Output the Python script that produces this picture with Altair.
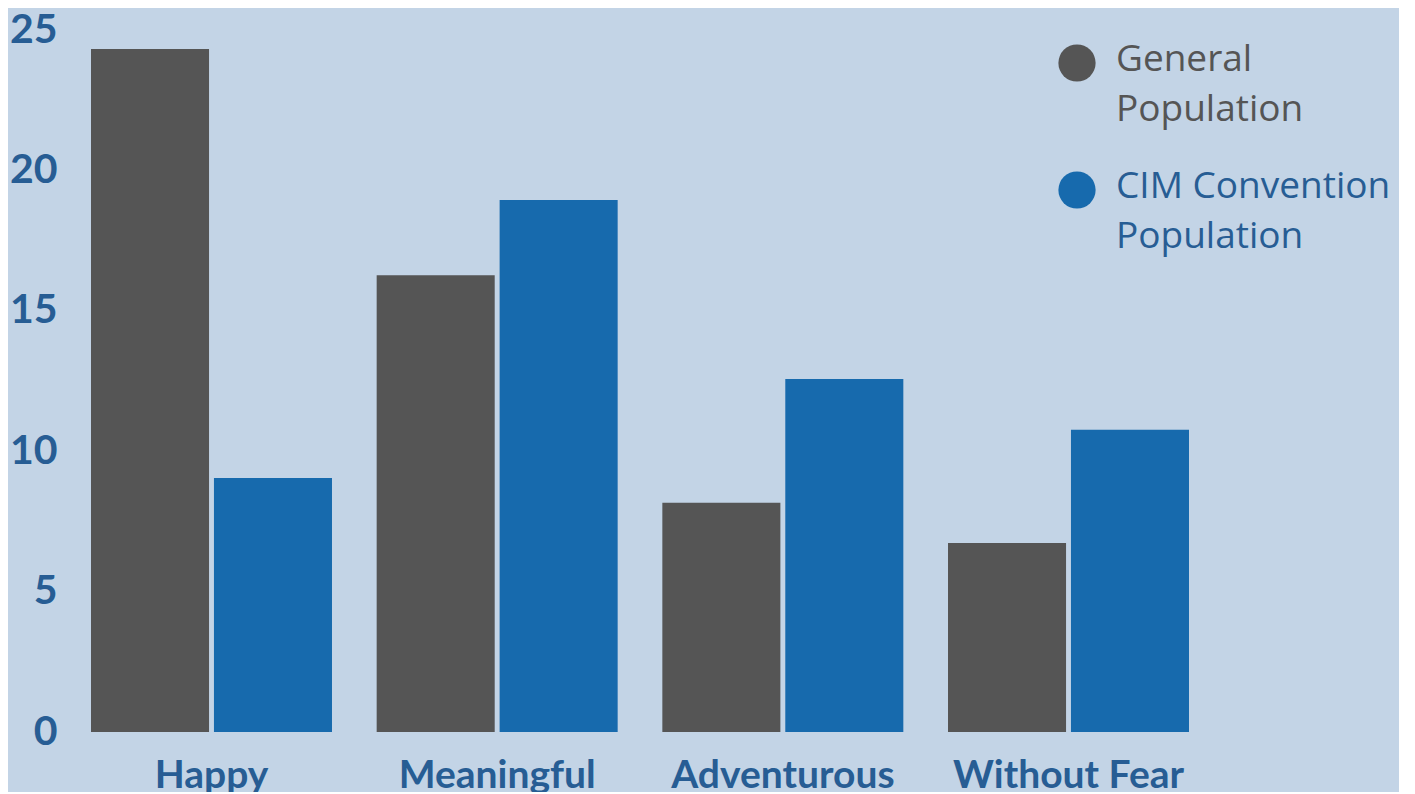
import altair as alt
import pandas as pd

categories = ["Happy", "Meaningful", "Adventurous", "Without Fear"]
series = ["General Population", "CIM Convention Population"]
general = [24.32, 16.27, 8.16, 6.73]
cim = [9.05, 18.95, 12.57, 10.76]
y_ticks = [0, 5, 10, 15, 20, 25]

rows = []
for c, g, m in zip(categories, general, cim):
    rows.append({"category": c, "series": series[0], "value": g})
    rows.append({"category": c, "series": series[1], "value": m})
df = pd.DataFrame(rows)

BG = "#c3d4e6"
GREY = "#555555"
BLUE = "#176aad"
TEXT_BLUE = "#275d94"

chart = alt.Chart(df).mark_bar().encode(
    x=alt.X("category:N", sort=categories,
            scale=alt.Scale(paddingInner=0.1564, paddingOuter=0),
            axis=alt.Axis(title=None, domain=False, ticks=False, labelAngle=0,
                          labelFont="Lato", labelFontSize=39, labelFontWeight="bold",
                          labelColor=TEXT_BLUE, labelPadding=16, labelBaseline="top",
                          labelLimit=400)),
    xOffset=alt.XOffset("series:N", sort=series,
                        scale=alt.Scale(paddingInner=0.04, paddingOuter=0)),
    y=alt.Y("value:Q", scale=alt.Scale(domain=[0, 25], nice=False),
            axis=alt.Axis(title=None, domain=False, ticks=False, grid=False,
                          values=y_ticks, labelFont="Lato", labelFontSize=41,
                          labelFontWeight="bold", labelColor=TEXT_BLUE,
                          labelPadding=34, labelOffset=-8)),
    color=alt.Color("series:N", sort=series,
                    scale=alt.Scale(domain=series, range=[GREY, BLUE]),
                    legend=alt.Legend(title=None, orient="none", legendX=967, legendY=14,
                                      symbolType="circle", symbolSize=1385,
                                      symbolStrokeWidth=0, symbolOpacity=1,
                                      labelFont="Open Sans", labelFontSize=37,
                                      labelColor={"expr": "datum.value == 'General Population' ? '#555555' : '#275d94'"},
                                      labelExpr="[replace(datum.label, ' Population', ''), 'Population']",
                                      labelBaseline="alphabetic",
                                      labelOffset=20, rowPadding=40, labelLimit=400)),
).properties(
    width=1098, height=702,
    background=BG,
    padding={"left": 83, "top": 22, "right": 210, "bottom": 60},
    autosize=alt.AutoSizeParams(type="none"),
).configure(
    style={"guide-label": {"lineHeight": 50, "dy": 8}},
    view={"stroke": None},
)

chart.save("out.html", embed_options={"renderer": "svg", "actions": False})
